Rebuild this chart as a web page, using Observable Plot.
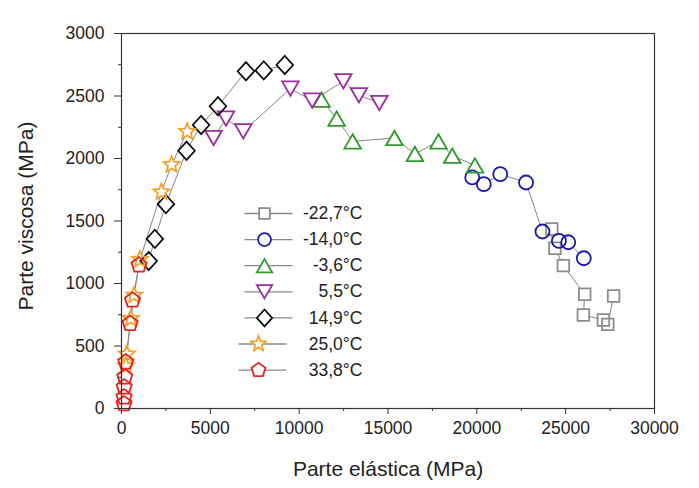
<!DOCTYPE html>
<html><head><meta charset="utf-8">
<script src="https://cdn.jsdelivr.net/npm/d3@7"></script>
<script src="https://cdn.jsdelivr.net/npm/@observablehq/plot@0.6"></script>
<style>body{margin:0;background:#fff}</style>
</head><body><div id="chart"></div>
<script>
// ---- data ----
const temps = ["-22,7°C", "-14,0°C", "-3,6°C", "5,5°C", "14,9°C", "25,0°C", "33,8°C"];

const t227_x = [24220, 24395, 24871, 26072, 25997, 27123, 27373, 27698];
const t227_y = [1437, 1282, 1143, 914, 748, 708, 673, 900];

const t140_x = [19741, 20392, 21318, 22769, 23695, 24620, 25146, 26021];
const t140_y = [1849, 1795, 1875, 1808, 1416, 1341, 1330, 1202];

const t36_x = [11259, 12110, 13011, 15363, 16514, 17840, 18616, 19892];
const t36_y = [2471, 2319, 2137, 2164, 2036, 2137, 2022, 1945];

const t55_x = [5180, 5880, 6856, 9508, 10734, 12485, 13361, 14512];
const t55_y = [2164, 2319, 2217, 2559, 2463, 2618, 2506, 2444];

const t149_x = [1530, 1877, 2502, 3660, 4479, 5429, 7006, 8006, 9190];
const t149_y = [1180, 1357, 1635, 2062, 2268, 2418, 2698, 2705, 2748];

const t250_x = [250, 300, 523, 708, 1045, 2250, 2820, 3700];
const t250_y = [340, 435, 719, 906, 1193, 1732, 1950, 2215];

const t338_x = [140, 145, 150, 185, 242, 483, 618, 989];
const t338_y = [37, 91, 171, 251, 371, 679, 866, 1147];

const xTicks = [0, 5000, 10000, 15000, 20000, 25000, 30000];
const xMinor = [2500, 7500, 12500, 17500, 22500, 27500];
const yTicks = [0, 500, 1000, 1500, 2000, 2500, 3000];
const yMinor = [250, 750, 1250, 1750, 2250, 2750];

const xTitle = "Parte elástica (MPa)";
const yTitle = "Parte viscosa (MPa)";

// ---- symbols ----
const R = s => Math.sqrt(s / Math.PI);
const symSquare = {draw(c, s) {const r = R(s); c.moveTo(-r, -r); c.lineTo(r, -r); c.lineTo(r, r); c.lineTo(-r, r); c.closePath();}};
const symCircle = {draw(c, s) {const r = R(s); c.moveTo(r, 0); c.arc(0, 0, r, 0, 2 * Math.PI); c.closePath();}};
const symTriUp = {draw(c, s) {const r = R(s), h = r * 1.732; c.moveTo(0, -h / 2); c.lineTo(r, h / 2); c.lineTo(-r, h / 2); c.closePath();}};
const symTriDown = {draw(c, s) {const r = R(s), h = r * 1.732; c.moveTo(0, h / 2); c.lineTo(r, -h / 2); c.lineTo(-r, -h / 2); c.closePath();}};
const symDiamond = {draw(c, s) {const r = R(s); c.moveTo(0, -r * 1.1); c.lineTo(r, 0); c.lineTo(0, r * 1.1); c.lineTo(-r, 0); c.closePath();}};
const symStar = {draw(c, s) {const r = R(s), ri = r * 0.45;
  for (let i = 0; i < 10; i++) {const a = -Math.PI / 2 + i * Math.PI / 5, rr = i % 2 ? ri : r;
    const px = rr * Math.cos(a), py = rr * Math.sin(a); if (i) c.lineTo(px, py); else c.moveTo(px, py);}
  c.closePath();}};
const symPent = {draw(c, s) {const r = R(s);
  for (let i = 0; i < 5; i++) {const a = -Math.PI / 2 + i * 2 * Math.PI / 5;
    const px = r * Math.cos(a), py = r * Math.sin(a); if (i) c.lineTo(px, py); else c.moveTo(px, py);}
  c.closePath();}};
const symLegLine = {draw(c, s) {c.moveTo(-20, 0); c.lineTo(28, 0);}};

const series = [
  {name: temps[0], xs: t227_x, ys: t227_y, color: "#8c8c8c", symbol: symSquare, r: 5.8, ldx: 0},
  {name: temps[1], xs: t140_x, ys: t140_y, color: "#1a1aa6", symbol: symCircle, r: 7, ldx: 0},
  {name: temps[2], xs: t36_x, ys: t36_y, color: "#2e9a2e", symbol: symTriUp, r: 8.3, ldx: 0},
  {name: temps[3], xs: t55_x, ys: t55_y, color: "#9b2f9b", symbol: symTriDown, r: 8.3, ldx: 0},
  {name: temps[4], xs: t149_x, ys: t149_y, color: "#111111", symbol: symDiamond, r: 8.3, ldx: 0},
  {name: temps[5], xs: t250_x, ys: t250_y, color: "#f0a22a", symbol: symStar, r: 8.5, ldx: -6},
  {name: temps[6], xs: t338_x, ys: t338_y, color: "#e32222", symbol: symPent, r: 8, ldx: -6}
];
const rows = series.map(s => s.xs.map((x, i) => ({series: s.name, x, y: s.ys[i]})));

const marks = [];
// connecting lines
series.forEach((s, k) => marks.push(Plot.line(rows[k], {x: "x", y: "y", stroke: "#858585", strokeWidth: 1})));
// white interiors (hide lines inside symbols)
series.forEach((s, k) => marks.push(Plot.dot(rows[k], {x: "x", y: "y", r: s.r, symbol: s.symbol, fill: "white", stroke: "none"})));
// outlines
series.forEach((s, k) => marks.push(Plot.dot(rows[k], {x: "x", y: "y", r: s.r, symbol: s.symbol, fill: "none", stroke: s.color, strokeWidth: 1.8})));

// legend
series.forEach((s, k) => {
  const dy = 180 + k * 26.1;
  marks.push(Plot.dot([s.name], {frameAnchor: "top-left", dx: 143 + s.ldx, dy, symbol: symLegLine, r: 5, stroke: "#8a8a8a", strokeWidth: 1.3, fill: "none"}));
  marks.push(Plot.dot([s.name], {frameAnchor: "top-left", dx: 143 + s.ldx, dy, symbol: s.symbol, r: s.r * 0.92, stroke: s.color, strokeWidth: 1.8, fill: "white"}));
  marks.push(Plot.text([s.name], {frameAnchor: "top-left", dx: 241, dy, text: d => d, textAnchor: "end", lineAnchor: "middle", fontSize: 17.5, fill: "#222"}));
});

// axes
marks.push(Plot.axisX(xTicks, {tickSize: 6, tickPadding: 7, fontSize: 17.5, tickFormat: d => String(d), label: null, stroke: "#333", fill: "#222"}));
marks.push(Plot.axisX(xMinor, {tickSize: 3, tickFormat: () => "", label: null, stroke: "#333"}));
marks.push(Plot.axisY(yTicks, {tickSize: 7, tickPadding: 10, fontSize: 17.5, tickFormat: d => String(d), label: null, stroke: "#333", fill: "#222"}));
marks.push(Plot.axisY(yMinor, {tickSize: 3, tickFormat: () => "", label: null, stroke: "#333"}));
marks.push(Plot.frame({stroke: "#333", strokeWidth: 1.2}));
// axis titles
marks.push(Plot.text([xTitle], {frameAnchor: "bottom", dy: 61, text: d => d, fontSize: 21, textAnchor: "middle", lineAnchor: "middle", fill: "#222"}));
marks.push(Plot.text([yTitle], {frameAnchor: "left", dx: -95, dy: -5, rotate: -90, text: d => d, fontSize: 21, textAnchor: "middle", lineAnchor: "middle", fill: "#222"}));

const chart = Plot.plot({
  width: 699, height: 488,
  marginLeft: 121, marginRight: 45, marginTop: 33, marginBottom: 80,
  x: {domain: [0, 30000]},
  y: {domain: [0, 3000]},
  style: {fontFamily: "'Liberation Sans', Arial, sans-serif", background: "white", color: "#222", overflow: "visible"},
  marks
});
document.getElementById("chart").appendChild(chart);
</script></body></html>
